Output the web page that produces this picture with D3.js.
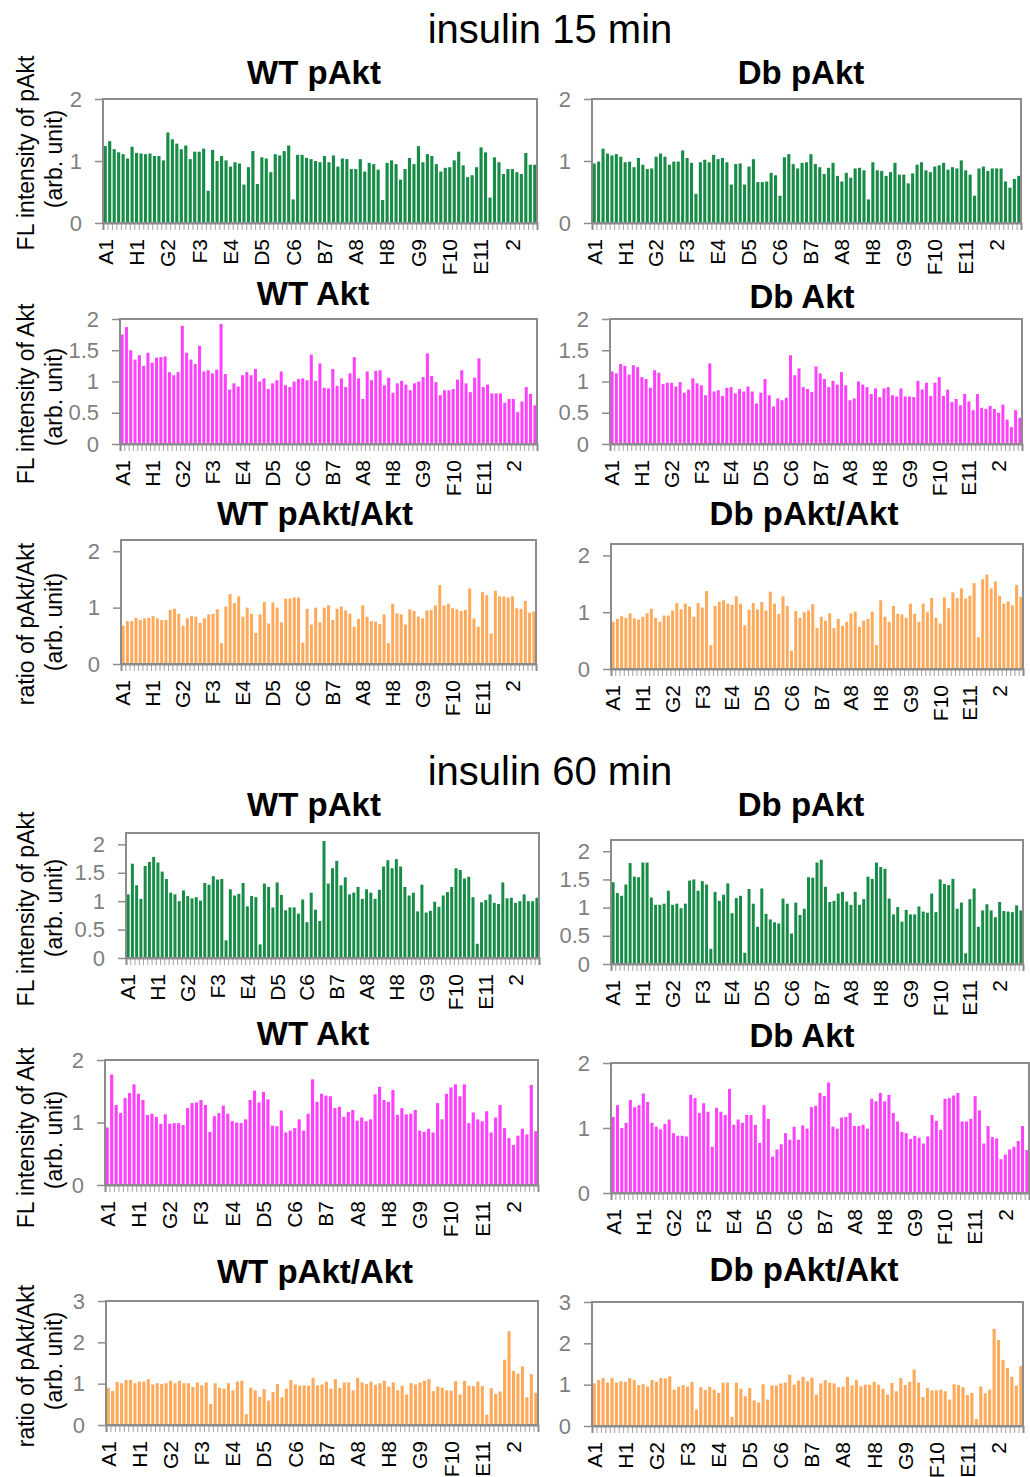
<!DOCTYPE html>
<html>
<head>
<meta charset="utf-8">
<script src="https://cdn.jsdelivr.net/npm/d3@7"></script>
<style>
  body { margin: 0; background: #fff; }
  text { font-family: "Liberation Sans", Arial, sans-serif; }
</style>
</head>
<body>
<div id="chart"></div>
<script>
// DATA — 97 wells per chart

const tickLabels = ['A1', 'H1', 'G2', 'F3', 'E4', 'D5', 'C6', 'B7', 'A8', 'H8', 'G9', 'F10', 'E11', '2'];
const wells = d3.range(97);

// insulin 15 min
const wtPakt15 = [1.24,1.32,1.19,1.14,1.11,1.04,1.23,1.13,1.12,1.11,1.12,1.08,1.08,1.01,
  1.46,1.35,1.28,1.19,1.25,1.03,1.15,1.15,1.20,0.52,
  1.18,1.0,1.08,1.01,0.91,0.98,0.96,0.62,0.9,1.16,0.63,1.06,1.04,0.82,1.11,1.09,1.16,1.25,0.38,
  1.1,1.1,1.05,1.03,1.0,0.98,1.08,0.98,1.09,0.91,1.04,1.03,0.87,0.87,1.03,0.83,0.97,0.95,0.86,0.37,
  0.97,1.01,0.95,0.70,0.87,1.05,0.95,1.24,0.98,1.11,1.08,0.95,0.83,0.89,0.9,1.01,1.15,0.93,0.74,0.77,0.9,1.22,1.14,0.41,
  1.06,0.98,0.79,0.87,0.87,0.82,0.79,1.13,0.94,0.94];
const dbPakt15 = [0.96,0.99,1.2,1.12,1.09,1.11,1.07,0.98,0.99,0.9,1.05,0.94,0.87,0.88,1.07,1.12,1.07,0.94,0.99,0.99,1.17,1.05,0.97,0.47,
  0.98,1.02,0.98,1.1,1.03,1.05,0.98,0.62,0.95,0.96,0.62,0.91,1.03,0.66,0.66,0.67,0.81,0.77,0.44,
  1.06,1.11,0.95,0.88,0.97,0.98,1.11,0.95,0.9,0.79,0.89,0.97,0.76,0.67,0.81,0.73,0.88,0.89,0.85,0.38,
  0.98,0.85,0.84,0.76,0.82,0.97,0.78,0.78,0.64,0.8,0.94,0.98,0.85,0.82,0.91,0.93,0.97,0.86,0.9,0.88,1.01,0.85,0.78,0.44,
  0.88,0.91,0.84,0.88,0.88,0.88,0.67,0.57,0.71,0.76];
const wtAkt15 = [1.75,1.87,1.5,1.35,1.42,1.25,1.46,1.3,1.38,1.39,
  1.4,1.15,1.1,1.15,1.89,1.46,1.35,1.28,1.57,1.16,
  1.18,1.13,1.19,1.92,1.12,0.87,0.97,0.92,1.1,1.15,
  1.1,1.2,1.0,1.05,0.88,0.97,1.02,1.16,0.94,0.91,
  1.0,1.04,1.05,1.02,1.43,1.01,1.29,0.9,0.89,1.2,
  0.93,1.05,0.91,1.13,1.39,1.05,0.72,1.16,1.02,1.17,
  1.18,0.94,1.06,0.82,0.97,1.01,0.95,0.86,0.97,1.0,
  1.07,1.45,1.09,0.99,0.78,0.86,0.86,0.88,1.03,1.18,
  0.97,0.83,1.06,1.37,0.91,0.95,0.81,0.81,0.81,0.66,
  0.72,0.72,0.51,0.68,0.91,0.8,0.62];
const dbAkt15 = [1.16,1.13,1.28,1.25,1.11,1.26,1.23,1.07,1.04,0.9,
  1.18,1.14,0.96,0.98,0.98,0.92,0.99,0.82,0.87,1.05,
  0.97,0.94,0.78,1.29,0.84,0.86,0.77,0.9,0.91,0.81,
  0.88,0.84,0.92,0.84,0.65,0.82,1.04,0.78,0.6,0.73,
  0.7,0.74,1.42,1.1,1.21,0.91,0.88,0.83,1.24,1.13,
  1.04,0.91,1.01,0.95,1.15,0.94,0.7,0.73,1.0,0.95,
  0.91,0.8,0.89,0.75,0.89,0.91,0.78,0.76,0.89,0.76,
  0.76,0.75,1.01,0.87,0.98,0.77,0.98,1.07,0.77,0.87,
  0.67,0.72,0.62,0.8,0.68,0.54,0.8,0.58,0.56,0.61,
  0.56,0.5,0.63,0.39,0.27,0.54,0.42];
const wtRatio15 = [0.68,0.76,0.76,0.82,0.78,0.81,0.82,0.85,0.81,0.78,
  0.78,0.96,0.98,0.89,0.68,0.81,0.85,0.84,0.73,0.81,
  0.88,0.89,0.97,0.37,1.02,1.24,1.08,1.2,0.84,1.0,
  0.89,0.55,0.88,1.1,0.72,1.09,1.0,0.74,1.16,1.16,
  1.18,1.18,0.38,0.98,0.7,1.0,0.74,1.0,1.04,0.78,
  0.98,1.02,0.95,0.89,0.66,0.8,1.04,0.84,0.76,0.75,
  0.71,0.88,0.37,1.07,0.9,0.88,0.7,0.97,0.94,0.84,
  0.81,0.95,0.96,1.04,1.4,1.04,1.07,0.99,0.97,0.94,
  0.96,1.34,0.81,0.66,1.28,1.22,0.54,1.3,1.2,1.2,
  1.18,1.2,0.99,0.98,1.12,0.91,0.93];
const dbRatio15 = [0.83,0.88,0.93,0.9,0.98,0.89,0.87,0.92,0.98,1.06,
  0.9,0.83,0.94,0.94,1.03,1.16,1.05,1.15,1.1,0.92,
  1.16,1.08,1.37,0.42,1.11,1.18,1.21,1.15,1.13,1.28,
  1.15,0.77,1.04,1.16,1.05,1.18,1.03,1.36,1.15,0.97,
  1.28,1.11,0.32,1.02,0.9,1.0,1.03,1.14,0.72,0.92,
  0.85,0.98,0.72,0.88,0.76,0.83,0.98,1.01,0.74,0.85,
  0.88,1.01,0.42,1.21,0.92,0.83,1.11,0.97,0.96,0.9,
  1.15,0.97,0.83,1.15,1.0,1.25,0.9,0.8,1.26,1.07,
  1.35,1.25,1.42,1.24,1.29,1.51,0.56,1.58,1.66,1.42,
  1.54,1.29,1.15,1.19,1.12,1.48,1.27];

// insulin 60 min
const wtPakt60 = [1.12,1.66,1.28,1.04,1.62,1.69,1.78,1.68,1.52,1.39,
  1.15,1.12,1.0,1.19,1.09,1.05,1.07,1.01,1.32,1.29,
  1.44,1.38,1.39,0.31,1.21,1.1,1.13,1.32,0.91,1.09,
  1.07,0.24,1.31,1.25,0.89,1.33,1.11,0.84,0.89,0.89,
  0.78,1.03,0.63,1.15,0.85,0.65,2.06,1.31,1.58,1.71,
  1.28,1.42,1.12,1.15,1.25,1.04,1.21,1.15,1.04,1.2,
  1.61,1.72,1.58,1.74,1.61,1.25,1.1,1.15,0.82,1.29,
  0.8,0.83,0.99,0.9,1.1,1.16,1.25,1.58,1.55,1.4,
  1.43,1.07,0.25,0.98,1.02,1.12,0.97,0.95,1.33,1.05,
  1.06,0.97,1.0,1.12,1.0,1.0,1.06];
const dbPakt60 = [1.45,1.26,1.21,1.41,1.79,1.55,1.54,1.8,1.8,1.18,
  1.05,1.05,1.07,1.3,1.05,1.07,0.99,1.07,1.48,1.5,
  1.3,1.47,1.41,0.27,1.28,1.12,1.23,1.43,0.9,1.17,
  1.21,0.2,1.33,1.07,0.66,1.34,0.89,0.79,0.74,0.72,
  1.16,1.07,0.54,1.09,0.87,0.98,1.54,1.53,1.8,1.85,
  1.37,1.1,1.12,1.25,1.28,1.11,1.05,1.28,1.05,1.15,
  1.55,1.51,1.8,1.72,1.69,1.16,0.88,1.01,0.75,0.96,
  0.88,0.88,1.02,0.93,0.91,1.25,0.92,1.5,1.42,1.4,
  1.51,0.98,1.09,0.19,1.15,1.34,0.66,0.95,1.06,0.95,
  0.83,1.1,0.94,0.93,0.92,1.04,0.95];
const wtAkt60 = [0.92,1.77,1.28,1.15,1.39,1.47,1.61,1.46,1.36,1.12,
  1.14,1.09,0.98,1.13,0.98,0.99,0.99,0.96,1.23,1.31,
  1.32,1.36,1.28,0.85,1.1,1.15,1.27,1.14,1.02,1.0,
  0.99,1.05,1.36,1.51,1.32,1.49,1.37,0.95,0.94,1.19,
  0.84,0.87,0.91,1.05,0.87,1.14,1.69,1.33,1.46,1.43,
  1.42,1.23,1.25,1.09,1.17,1.2,1.03,1.08,1.02,1.05,
  1.45,1.57,1.36,1.33,1.52,1.12,1.23,1.13,1.14,1.2,
  0.87,0.85,0.9,0.84,1.31,1.05,1.46,1.56,1.61,1.42,
  1.61,0.99,1.16,1.05,1.02,1.18,0.84,1.08,1.28,0.91,
  0.75,0.64,0.79,0.9,0.81,1.6,0.86];
const dbAkt60 = [1.17,1.35,1.0,1.08,1.43,1.32,1.35,1.53,1.4,1.08,
  1.02,0.98,1.06,1.13,0.92,0.88,0.88,0.87,1.51,1.46,
  1.23,1.38,1.25,0.71,1.31,1.25,1.2,1.6,1.05,1.13,
  1.08,1.2,1.2,1.05,0.77,1.35,1.14,0.56,0.67,0.75,
  0.92,0.82,1.02,0.82,1.04,0.99,1.32,1.34,1.54,1.49,
  1.7,1.02,0.99,1.16,1.17,1.23,1.03,1.03,1.05,0.99,
  1.45,1.41,1.54,1.41,1.51,1.23,1.1,0.94,0.92,0.83,
  0.88,0.85,0.76,0.87,1.2,1.11,0.97,1.45,1.46,1.5,
  1.54,1.1,1.1,1.14,1.49,1.27,0.76,1.03,0.86,0.84,
  0.52,0.59,0.67,0.71,0.8,1.03,0.66];
const wtRatio60 = [0.9,0.82,1.04,1.01,1.09,1.09,1.01,1.05,1.05,1.11,
  0.98,1.01,0.99,1.01,1.07,1.01,1.07,1.01,1.01,0.92,
  1.03,0.96,1.03,0.51,1.01,0.9,0.88,1.01,0.84,1.05,
  1.07,0.26,0.9,0.84,0.68,0.87,0.59,0.8,0.99,0.67,
  0.88,1.09,0.98,0.95,0.96,0.95,1.14,0.96,0.98,1.05,
  0.88,1.11,0.9,1.03,1.03,0.84,1.14,1.03,0.99,1.05,
  0.97,1.01,1.07,0.93,1.03,0.84,0.95,0.74,1.01,0.98,
  1.03,1.07,1.11,0.82,0.93,0.9,0.84,0.83,1.06,0.74,
  1.07,0.95,0.94,1.05,0.94,0.25,0.89,0.75,0.81,1.58,
  2.27,1.31,1.24,1.42,0.67,1.23,0.78];
const dbRatio60 = [1.03,1.11,1.16,1.05,1.16,1.05,1.08,1.07,1.16,1.11,
  0.99,1.01,0.95,1.11,1.07,1.16,1.15,1.2,0.88,0.95,
  0.99,0.95,1.07,0.4,0.94,0.87,0.95,0.88,0.8,1.05,
  1.05,0.22,1.05,0.9,0.72,0.92,0.62,0.57,1.01,0.64,
  0.98,0.98,1.03,1.05,1.24,1.0,1.1,1.19,1.08,1.17,
  0.76,1.03,1.11,1.05,1.03,0.94,0.95,1.19,0.98,1.11,
  0.96,1.0,1.0,1.07,1.0,0.9,0.76,1.04,0.84,1.16,
  0.99,1.07,1.37,1.05,0.7,0.92,0.86,0.86,0.88,0.84,
  0.64,1.01,0.99,0.94,0.75,0.8,0.17,0.96,0.79,0.88,
  2.35,2.08,1.6,1.4,1.19,0.98,1.45];

// LAYOUT

const width = 1030;
const height = 1477;
const green = '#168c47';
const pink = '#ff40ff';
const orange = '#ffaa5a';
const gray = '#8c8c8c';

const panels = [
  {values: wtPakt15, title: 'WT pAkt', color: green, x0: 103, x1: 537, y0: 99, y1: 223, max: 2, step: 1, tx: 314, ty: 84},
  {values: dbPakt15, title: 'Db pAkt', color: green, x0: 592, x1: 1021, y0: 99, y1: 223, max: 2, step: 1, tx: 801, ty: 84},
  {values: wtAkt15, title: 'WT Akt', color: pink, x0: 120, x1: 537, y0: 319, y1: 444, max: 2, step: 0.5, tx: 313, ty: 305},
  {values: dbAkt15, title: 'Db Akt', color: pink, x0: 610, x1: 1022, y0: 319, y1: 444, max: 2, step: 0.5, tx: 802, ty: 308},
  {values: wtRatio15, title: 'WT pAkt/Akt', color: orange, x0: 121, x1: 536, y0: 540, y1: 664, max: 2.2, step: 1, tx: 315, ty: 525},
  {values: dbRatio15, title: 'Db pAkt/Akt', color: orange, x0: 611, x1: 1023, y0: 544, y1: 669, max: 2.2, step: 1, tx: 804, ty: 525},
  {values: wtPakt60, title: 'WT pAkt', color: green, x0: 126, x1: 539, y0: 833, y1: 958, max: 2.2, step: 0.5, tx: 314, ty: 816},
  {values: dbPakt60, title: 'Db pAkt', color: green, x0: 611, x1: 1023, y0: 840, y1: 964, max: 2.2, step: 0.5, tx: 801, ty: 816},
  {values: wtAkt60, title: 'WT Akt', color: pink, x0: 105, x1: 538, y0: 1060, y1: 1185, max: 2, step: 1, tx: 313, ty: 1045},
  {values: dbAkt60, title: 'Db Akt', color: pink, x0: 611, x1: 1029, y0: 1063, y1: 1193, max: 2, step: 1, tx: 802, ty: 1047},
  {values: wtRatio60, title: 'WT pAkt/Akt', color: orange, x0: 106, x1: 538, y0: 1301, y1: 1425, max: 3, step: 1, tx: 315, ty: 1283},
  {values: dbRatio60, title: 'Db pAkt/Akt', color: orange, x0: 592, x1: 1023, y0: 1302, y1: 1426, max: 3, step: 1, tx: 804, ty: 1281}
];

// y-axis titles for the left column
const yTitles = [
  {line1: 'FL intensity of pAkt', cy1: 153, cy2: 159},
  {line1: 'FL intensity of Akt', cy1: 394, cy2: 397},
  {line1: 'ratio of pAkt/Akt', cy1: 624, cy2: 622},
  {line1: 'FL intensity of pAkt', cy1: 909, cy2: 908},
  {line1: 'FL intensity of Akt', cy1: 1138, cy2: 1140},
  {line1: 'ratio of pAkt/Akt', cy1: 1366, cy2: 1361}
];

const svg = d3.select('#chart')
  .append('svg')
    .attr('width', width)
    .attr('height', height)
    .attr('viewBox', [0, 0, width, height]);

svg.append('rect')
  .attr('width', width)
  .attr('height', height)
  .attr('fill', '#fff');

// section headings
svg.append('text')
  .attr('x', 550).attr('y', 43)
  .attr('text-anchor', 'middle')
  .attr('font-size', 40)
  .text('insulin 15 min');
svg.append('text')
  .attr('x', 550).attr('y', 785)
  .attr('text-anchor', 'middle')
  .attr('font-size', 40)
  .text('insulin 60 min');

yTitles.forEach(t => {
  svg.append('text')
    .attr('transform', `translate(34,${t.cy1}) rotate(-90)`)
    .attr('text-anchor', 'middle')
    .attr('font-size', 23)
    .text(t.line1);
  svg.append('text')
    .attr('transform', `translate(62,${t.cy2}) rotate(-90)`)
    .attr('text-anchor', 'middle')
    .attr('font-size', 23)
    .text('(arb. unit)');
});

panels.forEach(drawPanel);

function drawPanel(p) {

  const g = svg.append('g');

  const x = d3.scaleBand()
    .domain(wells)
    .range([p.x0, p.x1])
    .paddingInner(0.3)
    .paddingOuter(0.15);

  // boundaries between categories, for the small tick marks
  const xb = d3.scaleLinear()
    .domain([0, wells.length])
    .range([p.x0, p.x1]);

  const y = d3.scaleLinear()
    .domain([0, p.max])
    .range([p.y1, p.y0]);

  // title
  g.append('text')
    .attr('x', p.tx).attr('y', p.ty)
    .attr('text-anchor', 'middle')
    .attr('font-size', 33)
    .attr('font-weight', 'bold')
    .text(p.title);

  // bars
  g.append('g')
    .selectAll('rect')
    .data(p.values)
    .join('rect')
      .attr('x', (d, i) => x(wells[i]))
      .attr('width', x.bandwidth())
      .attr('y', d => y(d))
      .attr('height', d => y(0) - y(d))
      .attr('fill', p.color);

  // plot frame
  g.append('rect')
    .attr('x', p.x0).attr('y', p.y0)
    .attr('width', p.x1 - p.x0)
    .attr('height', p.y1 - p.y0)
    .attr('fill', 'none')
    .attr('stroke', gray)
    .attr('stroke-width', 2);

  // y axis
  const ticks = d3.range(0, p.max + 1e-6, p.step);
  g.append('g')
    .attr('transform', `translate(${p.x0},0)`)
    .call(d3.axisLeft(y).tickValues(ticks).tickSize(8).tickPadding(13).tickFormat(d3.format('~g')))
    .call(a => a.select('.domain').remove())
    .call(a => a.selectAll('line').attr('stroke', gray).attr('stroke-width', 1.5))
    .call(a => a.selectAll('text')
      .attr('fill', '#7f7f7f')
      .attr('font-size', 22)
      .attr('font-family', '"Liberation Sans", Arial, sans-serif'));

  // x tick marks between the wells
  g.append('g')
    .attr('transform', `translate(0,${p.y1})`)
    .call(d3.axisBottom(xb).tickValues(d3.range(wells.length + 1)).tickSize(7).tickFormat(''))
    .call(a => a.select('.domain').attr('stroke', gray).attr('stroke-width', 2))
    .call(a => a.selectAll('line').attr('stroke', gray).attr('stroke-width', 0.8));

  // x labels, every 7th well
  g.append('g')
    .attr('transform', `translate(0,${p.y1})`)
    .call(d3.axisBottom(x)
      .tickValues(wells.filter(i => i % 7 === 0))
      .tickSize(0)
      .tickFormat(i => tickLabels[i / 7]))
    .call(a => a.select('.domain').remove())
    .call(a => a.selectAll('text')
      .attr('transform', 'rotate(-90)')
      .attr('x', -16)
      .attr('y', 0)
      .attr('dy', '0.35em')
      .attr('text-anchor', 'end')
      .attr('fill', '#000')
      .attr('font-size', 21)
      .attr('font-family', '"Liberation Sans", Arial, sans-serif'));
}
</script>
</body>
</html>
